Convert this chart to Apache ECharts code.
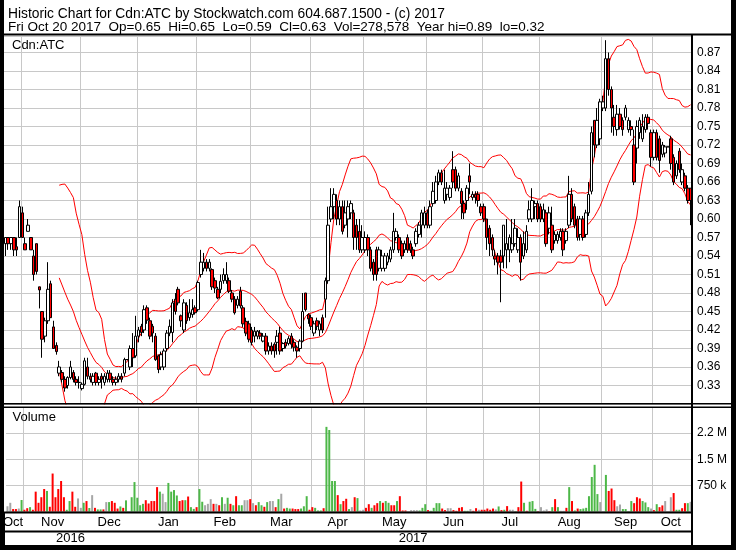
<!DOCTYPE html>
<html>
<head>
<meta charset="utf-8">
<script src="https://cdn.jsdelivr.net/npm/echarts@6/dist/echarts.min.js"></script>
<style>
  html, body { margin: 0; padding: 0; background: #fff; }
  #chart { width: 736px; height: 550px; }
</style>
</head>
<body>
<div id="chart"></div>
<script>
// months on the chart and how many sessions each one has
const months = ['2016-10', '2016-11', '2016-12', '2017-01', '2017-02', '2017-03', '2017-04',
  '2017-05', '2017-06', '2017-07', '2017-08', '2017-09', '2017-10'];
const sessions = [6, 21, 20, 21, 19, 21, 19, 22, 20, 20, 22, 18, 14];
const monthNames = ['Jan', 'Feb', 'Mar', 'Apr', 'May', 'Jun', 'Jul', 'Aug', 'Sep', 'Oct', 'Nov', 'Dec'];

// daily candles: [open, close, low, high]
const oct16 = [[0.56, 0.57, 0.54, 0.57], [0.57, 0.56, 0.55, 0.57], [0.56, 0.57, 0.55, 0.57],
  [0.57, 0.55, 0.54, 0.57], [0.555, 0.55, 0.54, 0.57], [0.57, 0.62, 0.57, 0.63]];
const nov16 = [[0.61, 0.57, 0.57, 0.62], [0.56, 0.55, 0.55, 0.57], [0.58, 0.59, 0.58, 0.60],
  [0.57, 0.55, 0.55, 0.57], [0.54, 0.51, 0.50, 0.55], [0.56, 0.515, 0.51, 0.56],
  [0.49, 0.485, 0.455, 0.49], [0.45, 0.405, 0.375, 0.45], [0.41, 0.435, 0.40, 0.44],
  [0.435, 0.486, 0.43, 0.53], [0.495, 0.44, 0.44, 0.50], [0.425, 0.39, 0.39, 0.435],
  [0.395, 0.385, 0.38, 0.40], [0.35, 0.36, 0.345, 0.37], [0.351, 0.34, 0.335, 0.355],
  [0.34, 0.326, 0.32, 0.345], [0.33, 0.343, 0.325, 0.345], [0.343, 0.36, 0.34, 0.37],
  [0.351, 0.34, 0.335, 0.355], [0.34, 0.335, 0.33, 0.345], [0.335, 0.335, 0.325, 0.345]];
const dec16 = [[0.325, 0.332, 0.322, 0.335], [0.332, 0.37, 0.33, 0.375], [0.36, 0.345, 0.34, 0.375],
  [0.345, 0.34, 0.335, 0.35], [0.335, 0.345, 0.33, 0.35], [0.35, 0.335, 0.33, 0.352],
  [0.335, 0.34, 0.33, 0.345], [0.345, 0.34, 0.325, 0.35], [0.335, 0.345, 0.33, 0.35],
  [0.34, 0.35, 0.335, 0.355], [0.35, 0.34, 0.335, 0.355], [0.34, 0.335, 0.33, 0.345],
  [0.335, 0.34, 0.33, 0.345], [0.34, 0.345, 0.335, 0.35], [0.345, 0.34, 0.335, 0.35],
  [0.35, 0.372, 0.345, 0.375], [0.372, 0.372, 0.372, 0.372], [0.36, 0.39, 0.355, 0.395],
  [0.39, 0.375, 0.36, 0.415], [0.378, 0.41, 0.375, 0.443]];
const jan17 = [[0.41, 0.42, 0.40, 0.425], [0.426, 0.416, 0.41, 0.43], [0.42, 0.453, 0.415, 0.46],
  [0.456, 0.436, 0.43, 0.46], [0.435, 0.41, 0.405, 0.44], [0.426, 0.415, 0.40, 0.43],
  [0.41, 0.372, 0.37, 0.415], [0.378, 0.356, 0.35, 0.38], [0.36, 0.38, 0.355, 0.385],
  [0.36, 0.386, 0.355, 0.39], [0.39, 0.415, 0.385, 0.42], [0.415, 0.426, 0.41, 0.437],
  [0.416, 0.464, 0.40, 0.47], [0.47, 0.45, 0.445, 0.48], [0.486, 0.464, 0.46, 0.49],
  [0.443, 0.435, 0.425, 0.445], [0.42, 0.464, 0.415, 0.47], [0.46, 0.435, 0.43, 0.465],
  [0.44, 0.448, 0.435, 0.47], [0.445, 0.453, 0.44, 0.47], [0.456, 0.448, 0.445, 0.46]];
const feb17 = [[0.453, 0.497, 0.45, 0.50], [0.51, 0.53, 0.505, 0.55], [0.52, 0.53, 0.515, 0.545],
  [0.53, 0.52, 0.515, 0.535], [0.52, 0.53, 0.515, 0.535], [0.518, 0.49, 0.485, 0.52],
  [0.50, 0.488, 0.48, 0.505], [0.486, 0.472, 0.47, 0.49], [0.486, 0.499, 0.48, 0.51],
  [0.50, 0.51, 0.495, 0.52], [0.50, 0.51, 0.495, 0.53], [0.50, 0.483, 0.48, 0.505],
  [0.48, 0.47, 0.465, 0.485], [0.47, 0.448, 0.445, 0.475], [0.46, 0.47, 0.455, 0.475],
  [0.483, 0.459, 0.455, 0.49], [0.456, 0.43, 0.425, 0.46], [0.434, 0.415, 0.41, 0.44],
  [0.43, 0.405, 0.40, 0.435]];
const mar17 = [[0.42, 0.40, 0.395, 0.425], [0.41, 0.418, 0.40, 0.425], [0.41, 0.418, 0.405, 0.42],
  [0.415, 0.41, 0.405, 0.42], [0.402, 0.41, 0.40, 0.415], [0.41, 0.386, 0.38, 0.415],
  [0.386, 0.394, 0.38, 0.40], [0.394, 0.386, 0.38, 0.40], [0.397, 0.386, 0.375, 0.40],
  [0.40, 0.41, 0.38, 0.42], [0.415, 0.386, 0.38, 0.425], [0.39, 0.398, 0.385, 0.40],
  [0.40, 0.394, 0.39, 0.405], [0.398, 0.406, 0.395, 0.41], [0.41, 0.397, 0.39, 0.415],
  [0.40, 0.392, 0.385, 0.405], [0.392, 0.386, 0.375, 0.395], [0.39, 0.402, 0.385, 0.405],
  [0.402, 0.45, 0.40, 0.48], [0.48, 0.453, 0.45, 0.48], [0.445, 0.438, 0.43, 0.447]];
const apr17 = [[0.44, 0.426, 0.42, 0.445], [0.415, 0.43, 0.41, 0.435], [0.435, 0.426, 0.42, 0.44],
  [0.42, 0.43, 0.41, 0.435], [0.44, 0.42, 0.415, 0.445], [0.47, 0.50, 0.44, 0.505],
  [0.50, 0.59, 0.495, 0.62], [0.60, 0.62, 0.595, 0.65], [0.62, 0.64, 0.60, 0.65],
  [0.63, 0.60, 0.59, 0.64], [0.60, 0.62, 0.59, 0.63], [0.62, 0.58, 0.575, 0.63],
  [0.59, 0.61, 0.585, 0.63], [0.60, 0.62, 0.57, 0.63], [0.61, 0.625, 0.60, 0.63],
  [0.61, 0.57, 0.55, 0.615], [0.59, 0.57, 0.55, 0.60], [0.58, 0.55, 0.545, 0.60],
  [0.55, 0.57, 0.545, 0.59]];
const may17 = [[0.55, 0.57, 0.545, 0.58], [0.57, 0.55, 0.54, 0.575], [0.55, 0.52, 0.515, 0.555],
  [0.53, 0.51, 0.50, 0.535], [0.55, 0.51, 0.50, 0.555], [0.52, 0.55, 0.515, 0.555],
  [0.52, 0.54, 0.515, 0.55], [0.52, 0.54, 0.515, 0.545], [0.53, 0.54, 0.525, 0.545],
  [0.535, 0.55, 0.53, 0.555], [0.55, 0.58, 0.545, 0.61], [0.57, 0.58, 0.565, 0.585],
  [0.57, 0.55, 0.545, 0.575], [0.56, 0.54, 0.535, 0.565], [0.55, 0.56, 0.545, 0.565],
  [0.57, 0.55, 0.545, 0.575], [0.56, 0.55, 0.545, 0.565], [0.55, 0.54, 0.535, 0.555],
  [0.56, 0.58, 0.555, 0.585], [0.575, 0.59, 0.57, 0.595], [0.59, 0.61, 0.57, 0.615],
  [0.59, 0.61, 0.585, 0.62]];
const jun17 = [[0.61, 0.59, 0.585, 0.615], [0.59, 0.62, 0.585, 0.63], [0.625, 0.645, 0.62, 0.66],
  [0.63, 0.66, 0.625, 0.67], [0.66, 0.675, 0.655, 0.68], [0.675, 0.66, 0.655, 0.68],
  [0.63, 0.65, 0.625, 0.68], [0.64, 0.65, 0.63, 0.66], [0.635, 0.65, 0.63, 0.655],
  [0.68, 0.66, 0.65, 0.71], [0.68, 0.65, 0.645, 0.685], [0.65, 0.67, 0.645, 0.675],
  [0.645, 0.625, 0.60, 0.65], [0.625, 0.61, 0.60, 0.63], [0.63, 0.65, 0.615, 0.655],
  [0.67, 0.66, 0.64, 0.69], [0.635, 0.64, 0.63, 0.645], [0.64, 0.635, 0.625, 0.645],
  [0.64, 0.63, 0.62, 0.645], [0.62, 0.61, 0.605, 0.625]];
const jul17 = [[0.62, 0.60, 0.595, 0.625], [0.60, 0.57, 0.55, 0.60], [0.585, 0.56, 0.54, 0.59],
  [0.57, 0.55, 0.54, 0.575], [0.54, 0.535, 0.525, 0.55], [0.54, 0.53, 0.51, 0.545],
  [0.54, 0.53, 0.465, 0.55], [0.54, 0.59, 0.52, 0.59], [0.55, 0.56, 0.52, 0.60],
  [0.55, 0.57, 0.53, 0.575], [0.55, 0.56, 0.545, 0.60], [0.56, 0.585, 0.555, 0.60],
  [0.55, 0.57, 0.545, 0.585], [0.57, 0.53, 0.50, 0.575], [0.54, 0.56, 0.535, 0.58],
  [0.55, 0.58, 0.545, 0.59], [0.60, 0.615, 0.595, 0.63], [0.60, 0.63, 0.595, 0.65],
  [0.62, 0.625, 0.60, 0.63], [0.625, 0.60, 0.595, 0.63]];
const aug17 = [[0.62, 0.60, 0.595, 0.625], [0.60, 0.615, 0.595, 0.625], [0.61, 0.56, 0.555, 0.615],
  [0.585, 0.61, 0.575, 0.62], [0.59, 0.55, 0.545, 0.62], [0.565, 0.575, 0.56, 0.58],
  [0.565, 0.575, 0.56, 0.58], [0.57, 0.58, 0.565, 0.585], [0.58, 0.55, 0.54, 0.585],
  [0.565, 0.58, 0.56, 0.585], [0.59, 0.64, 0.585, 0.67], [0.64, 0.60, 0.595, 0.65],
  [0.62, 0.59, 0.585, 0.625], [0.60, 0.57, 0.565, 0.605], [0.575, 0.60, 0.565, 0.605],
  [0.60, 0.57, 0.565, 0.605], [0.575, 0.61, 0.57, 0.615], [0.61, 0.64, 0.605, 0.66],
  [0.645, 0.74, 0.64, 0.75], [0.76, 0.72, 0.70, 0.76], [0.72, 0.76, 0.715, 0.78],
  [0.73, 0.79, 0.72, 0.795]];
const sep17 = [[0.78, 0.79, 0.775, 0.80], [0.78, 0.86, 0.775, 0.89], [0.86, 0.81, 0.80, 0.87],
  [0.81, 0.78, 0.74, 0.815], [0.765, 0.75, 0.735, 0.785], [0.745, 0.77, 0.735, 0.785],
  [0.77, 0.75, 0.745, 0.78], [0.76, 0.745, 0.735, 0.765], [0.765, 0.78, 0.76, 0.785],
  [0.745, 0.76, 0.74, 0.765], [0.75, 0.745, 0.735, 0.76], [0.72, 0.66, 0.655, 0.745],
  [0.715, 0.75, 0.69, 0.76], [0.74, 0.76, 0.73, 0.765], [0.73, 0.75, 0.725, 0.77],
  [0.745, 0.765, 0.74, 0.77], [0.765, 0.755, 0.745, 0.77], [0.74, 0.70, 0.685, 0.745]];
const oct17 = [[0.70, 0.74, 0.695, 0.745], [0.74, 0.70, 0.695, 0.745], [0.73, 0.695, 0.675, 0.735],
  [0.705, 0.72, 0.70, 0.725], [0.707, 0.717, 0.70, 0.72], [0.717, 0.717, 0.717, 0.717],
  [0.73, 0.69, 0.68, 0.735], [0.70, 0.66, 0.655, 0.705], [0.67, 0.69, 0.665, 0.695],
  [0.71, 0.68, 0.675, 0.715], [0.66, 0.68, 0.655, 0.69], [0.67, 0.65, 0.645, 0.675],
  [0.65, 0.63, 0.625, 0.655], [0.65, 0.63, 0.59, 0.65]];

// daily volume, thousands of shares
const volOct16 = [150, 250, 70, 70, 85, 330];
const volNov16 = [50, 95, 125, 50, 570, 250, 410, 645, 590, 135, 1090, 410, 645, 875, 410, 50, 300, 570, 135, 375, 105];
const volDec16 = [250, 300, 100, 470, 105, 60, 60, 60, 270, 270, 300, 250, 85, 145, 105, 320, 0, 410, 845, 395];
const volJan17 = [180, 220, 325, 230, 300, 300, 700, 570, 510, 270, 820, 570, 615, 460, 300, 325, 325, 430, 125, 75, 125];
const volFeb17 = [645, 280, 180, 220, 355, 220, 220, 180, 410, 220, 395, 220, 180, 440, 180, 180, 325, 325, 355];
const volMar17 = [240, 180, 270, 180, 135, 270, 300, 300, 125, 355, 510, 85, 105, 85, 85, 70, 70, 85, 150, 440, 50];
const volApr17 = [125, 105, 30, 30, 95, 2430, 2340, 875, 875, 470, 210, 300, 365, 70, 125, 410, 385, 30, 50];
const volMay17 = [105, 210, 105, 180, 240, 300, 250, 300, 250, 180, 180, 300, 440, 30, 30, 0, 40, 40, 40, 30, 105, 210];
const volJun17 = [40, 20, 105, 240, 240, 85, 40, 95, 95, 40, 20, 105, 125, 20, 20, 70, 20, 95, 50, 50];
const volJul17 = [50, 85, 50, 85, 60, 145, 40, 50, 155, 50, 50, 10, 125, 860, 250, 20, 280, 300, 75, 10];
const volAug17 = [125, 30, 60, 10, 125, 355, 125, 20, 20, 105, 700, 300, 30, 85, 70, 85, 105, 440, 990, 1340, 500, 270];
const volSep17 = [0, 1050, 590, 660, 325, 150, 200, 70, 70, 10, 300, 240, 410, 375, 300, 260, 125, 85];
const volOct17 = [40, 210, 125, 175, 300, 0, 410, 530, 50, 50, 95, 240, 240, 278.578];

// volume bar colour per day: g = up, r = down, n = unchanged
const dirOct16 = 'nnrrng';
const dirNov16 = 'rrgrrrrrgrrrrrrggrrnn';
const dirDec16 = 'grgnrggrngrrrgrgnggg';
const dirJan17 = 'ggrrrrrgnnggggrrgrggr';
const dirFeb17 = 'ggnnnrnrgngrgrggnnr';
const dirMar17 = 'nrggrgnnrgnrggrrrgggr';
const dirApr17 = 'rgggrggggrgrrgnrgnn';
const dirMay17 = 'rrgrrgrggrrgrrrnnnnggg';
const dirJun17 = 'rggggrrnnrrrrggnrrnr';
const dirJul17 = 'rrrrngrgrnngrrgrgggr';
const dirAug17 = 'nnnrgrgnnrgrgrgggggggn';
const dirSep17 = 'ngrrrnnggggrrrgggn';
const dirOct17 = 'rgrrnnnrggrrgn';

const candles = [].concat(oct16, nov16, dec16, jan17, feb17, mar17, apr17, may17, jun17, jul17, aug17, sep17, oct17);
const volumes = [].concat(volOct16, volNov16, volDec16, volJan17, volFeb17, volMar17, volApr17,
  volMay17, volJun17, volJul17, volAug17, volSep17, volOct17);
const dirs = (dirOct16 + dirNov16 + dirDec16 + dirJan17 + dirFeb17 + dirMar17 + dirApr17 +
  dirMay17 + dirJun17 + dirJul17 + dirAug17 + dirSep17 + dirOct17).split('');

// categories: month + session number
const cats = [];
const monthStart = new Set();
const monthLabel = new Set();
let yearStart = 0;
months.forEach((m, mi) => {
  const start = cats.length;
  monthStart.add(start);
  monthLabel.add(start + Math.floor((sessions[mi] - 1) / 2));
  if (m === '2017-01') yearStart = start;
  for (let k = 1; k <= sessions[mi]; k++) cats.push(m + '-' + String(k).padStart(2, '0'));
});
const yearLabel = new Set([Math.floor((yearStart - 1) / 2), Math.floor((yearStart + cats.length - 1) / 2)]);

// bollinger bands, 20 sessions, 2 std dev
const upper = [], middle = [], lower = [];
candles.forEach((c, i) => {
  if (i < 19) { upper.push('-'); middle.push('-'); lower.push('-'); return; }
  const win = candles.slice(i - 19, i + 1).map(d => d[1]);
  const mean = win.reduce((s, v) => s + v, 0) / 20;
  const sd = Math.sqrt(win.reduce((s, v) => s + (v - mean) * (v - mean), 0) / 20);
  middle.push(mean);
  upper.push(mean + 2 * sd);
  lower.push(mean - 2 * sd);
});

const dirColor = { g: '#4db848', r: '#ff0000', n: '#a6a6a6' };
const FONT = 'Liberation Sans, Arial, sans-serif';
const GRID = '#c8c8c8';

const chart = echarts.init(document.getElementById('chart'));

const xBase = {
  type: 'category', data: cats, boundaryGap: true,
  axisLine: { show: false }, axisTick: { show: false },
  splitLine: { show: true, interval: (i) => i > 0 && monthStart.has(i), lineStyle: { color: GRID, width: 1 } }
};

chart.setOption({
  animation: false,
  backgroundColor: '#fff',
  grid: [
    { left: 4, top: 36, width: 688, height: 368 },
    { left: 4, top: 407, width: 688, height: 104.5 },
    { left: 4, top: 513, width: 688, height: 32 }
  ],
  xAxis: [
    Object.assign({}, xBase, { gridIndex: 0, axisLabel: { show: false } }),
    Object.assign({}, xBase, {
      gridIndex: 1,
      axisLabel: {
        show: true, interval: (i) => monthLabel.has(i), margin: 4,
        formatter: (v) => monthNames[parseInt(v.slice(5, 7), 10) - 1],
        color: '#000', fontSize: 13, fontFamily: FONT
      }
    }),
    {
      type: 'category', data: cats, boundaryGap: true, gridIndex: 2,
      axisLine: { show: false }, axisTick: { show: false },
      splitLine: { show: true, interval: (i) => i === yearStart, lineStyle: { color: '#000', width: 2 } },
      axisLabel: {
        show: true, inside: true, margin: 0, interval: (i) => yearLabel.has(i),
        formatter: (v) => v.slice(0, 4), color: '#000', fontSize: 13, fontFamily: FONT
      }
    }
  ],
  yAxis: [
    {
      gridIndex: 0, type: 'value', position: 'right', min: 0.30, max: 0.8968, interval: 0.03,
      axisLine: { show: false }, axisTick: { show: false },
      splitLine: { lineStyle: { color: GRID, width: 1 } },
      axisLabel: {
        margin: 5, color: '#000', fontSize: 12, fontFamily: FONT,
        formatter: (v) => (v > 0.31 && v < 0.88) ? v.toFixed(2) : ''
      }
    },
    {
      gridIndex: 1, type: 'value', position: 'right', min: 0, max: 3000000, interval: 750000,
      axisLine: { show: false }, axisTick: { show: false },
      splitLine: { lineStyle: { color: GRID, width: 1 } },
      axisLabel: {
        margin: 5, color: '#000', fontSize: 12, fontFamily: FONT,
        formatter: (v) => ({ 750000: '750 k', 1500000: '1.5 M', 2250000: '2.2 M' })[v] || ''
      }
    },
    { gridIndex: 2, type: 'value', show: false }
  ],
  series: [
    {
      type: 'line', xAxisIndex: 0, yAxisIndex: 0, data: upper, showSymbol: false,
      lineStyle: { color: '#ff0000', width: 1 }, z: 2
    },
    {
      type: 'line', xAxisIndex: 0, yAxisIndex: 0, data: middle, showSymbol: false,
      lineStyle: { color: '#ff0000', width: 1 }, z: 2
    },
    {
      type: 'line', xAxisIndex: 0, yAxisIndex: 0, data: lower, showSymbol: false,
      lineStyle: { color: '#ff0000', width: 1 }, z: 2
    },
    {
      type: 'candlestick', xAxisIndex: 0, yAxisIndex: 0, data: candles, barWidth: 3, z: 3,
      itemStyle: { color: '#ffffff', color0: '#ff0000', borderColor: '#000', borderColor0: '#000', borderWidth: 1 }
    },
    {
      type: 'bar', xAxisIndex: 1, yAxisIndex: 1, barWidth: 2,
      data: volumes.map((v, i) => ({ value: v * 1000, itemStyle: { color: dirColor[dirs[i]] } }))
    }
  ],
  graphic: [
    { type: 'rect', z: 100, shape: { x: 0, y: 33.5, width: 736, height: 2 }, style: { fill: '#000' } },
    { type: 'rect', z: 100, shape: { x: 4, y: 403, width: 727, height: 1.5 }, style: { fill: '#000' } },
    { type: 'rect', z: 100, shape: { x: 4, y: 406.5, width: 727, height: 1.5 }, style: { fill: '#000' } },
    { type: 'rect', z: 100, shape: { x: 4, y: 511.5, width: 688, height: 2 }, style: { fill: '#000' } },
    { type: 'rect', z: 100, shape: { x: 4, y: 530.5, width: 688, height: 2 }, style: { fill: '#000' } },
    { type: 'rect', z: 100, shape: { x: 691, y: 34, width: 2, height: 512 }, style: { fill: '#000' } },
    { type: 'rect', z: 100, shape: { x: 0, y: 0, width: 4, height: 550 }, style: { fill: '#000' } },
    { type: 'rect', z: 100, shape: { x: 731, y: 0, width: 5, height: 550 }, style: { fill: '#000' } },
    { type: 'rect', z: 100, shape: { x: 0, y: 545, width: 736, height: 5 }, style: { fill: '#000' } },
    {
      type: 'text', z: 100, x: 8, y: 13.7,
      style: { text: 'Historic Chart for Cdn:ATC by Stockwatch.com 604.687.1500 - (c) 2017', font: '13.8px ' + FONT, fill: '#000', verticalAlign: 'middle' }
    },
    {
      type: 'text', z: 100, x: 8, y: 27,
      style: { text: 'Fri Oct 20 2017  Op=0.65  Hi=0.65  Lo=0.59  Cl=0.63  Vol=278,578  Year hi=0.89  lo=0.32', font: '13.5px ' + FONT, fill: '#000', verticalAlign: 'middle' }
    },
    {
      type: 'text', z: 100, x: 12, y: 45.5,
      style: { text: 'Cdn:ATC', font: '13px ' + FONT, fill: '#000', verticalAlign: 'middle' }
    },
    {
      type: 'text', z: 100, x: 12.5, y: 417,
      style: { text: 'Volume', font: '13px ' + FONT, fill: '#000', verticalAlign: 'middle' }
    }
  ]
});
</script>
</body>
</html>
